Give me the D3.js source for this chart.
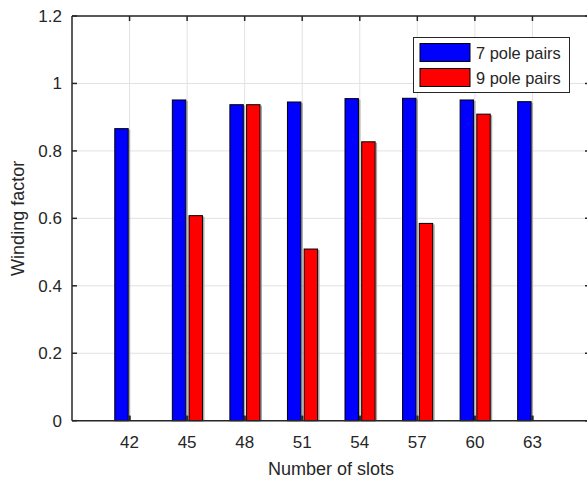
<!DOCTYPE html>
<html><head><meta charset="utf-8">
<script src="https://cdn.jsdelivr.net/npm/d3@7"></script>
<style>body{margin:0;background:#fff;overflow:hidden}svg{display:block}text{font-family:"Liberation Sans",Arial,sans-serif;fill:#262626}</style>
</head><body><svg id="c" width="587" height="481"></svg>
<script>
const slots = [42, 45, 48, 51, 54, 57, 60, 63];
const pole7 = [0.866, 0.951, 0.937, 0.945, 0.955, 0.956, 0.951, 0.946];
const pole9 = [0, 0.608, 0.937, 0.509, 0.827, 0.585, 0.909, 0];
const seriesNames = ["7 pole pairs", "9 pole pairs"];
const seriesColors = ["#0000ff", "#ff0000"];
const yTicks = [0, 0.2, 0.4, 0.6, 0.8, 1, 1.2];

const svg = d3.select("#c");
const L = 72, R = 590, T = 16, B = 420.7;
const x = d3.scaleLinear().domain([39, 66]).range([L, R]);
const y = d3.scaleLinear().domain([0, 1.2]).range([B, T]);
const tickLen = 5;

// grid
const g = svg.append("g");
g.selectAll("line.vg").data(slots).enter().append("line")
  .attr("x1", d => x(d)).attr("x2", d => x(d)).attr("y1", T).attr("y2", B)
  .attr("stroke", "#e2e2e2").attr("stroke-width", 1);
g.selectAll("line.hg").data(yTicks).enter().append("line")
  .attr("x1", L).attr("x2", R).attr("y1", d => y(d)).attr("y2", d => y(d))
  .attr("stroke", "#e2e2e2").attr("stroke-width", 1);

// bars
const barW = 0.70, off = [-0.42, 0.45];
const series = [pole7, pole9];
series.forEach((vals, si) => {
  const gg = svg.append("g");
  const data = slots.map((s, i) => ({s, v: vals[i]}));
  gg.selectAll("rect.sh").data(data.filter(d => d.v > 0)).enter().append("rect")
    .attr("x", d => x(d.s + off[si] + barW / 2) + 0.5)
    .attr("y", d => y(d.v) + 1)
    .attr("width", 1.5)
    .attr("height", d => B - y(d.v) - 1)
    .attr("fill", "#a8a8a8");
  if (si === 0) {
    gg.selectAll("rect.sp").data(data).enter().append("rect")
      .attr("x", d => x(d.s + off[si] + barW / 2) + 0.5)
      .attr("y", B - 5).attr("width", 2).attr("height", 5)
      .attr("fill", "#333");
  }
  gg.selectAll("rect.b").data(data).enter().append("rect")
    .attr("x", d => x(d.s + off[si] - barW / 2))
    .attr("y", d => y(d.v))
    .attr("width", x(barW) - x(0))
    .attr("height", d => B - y(d.v))
    .attr("fill", seriesColors[si])
    .attr("stroke", "#000").attr("stroke-width", d => d.v > 0 ? 1 : 1.6);
});

// axes box
const ax = svg.append("g").attr("stroke", "#262626").attr("stroke-width", 1.5);
ax.append("line").attr("x1", L).attr("x2", R).attr("y1", B).attr("y2", B);
ax.append("line").attr("x1", L).attr("x2", R).attr("y1", T).attr("y2", T);
ax.append("line").attr("x1", L).attr("x2", L).attr("y1", T).attr("y2", B);
slots.forEach(s => {
  ax.append("line").attr("x1", x(s)).attr("x2", x(s)).attr("y1", B).attr("y2", B - tickLen);
  ax.append("line").attr("x1", x(s)).attr("x2", x(s)).attr("y1", T).attr("y2", T + tickLen);
});
yTicks.forEach(t => {
  ax.append("line").attr("x1", L).attr("x2", L + tickLen).attr("y1", y(t)).attr("y2", y(t));
  ax.append("line").attr("x1", R).attr("x2", R - tickLen).attr("y1", y(t)).attr("y2", y(t));
});

// tick labels
svg.selectAll("text.xt").data(slots).enter().append("text")
  .attr("x", d => x(d)).attr("y", 448).attr("text-anchor", "middle")
  .attr("font-size", 17).text(d => d);
svg.selectAll("text.yt").data(yTicks).enter().append("text")
  .attr("x", 62).attr("y", d => y(d) + 6).attr("text-anchor", "end")
  .attr("font-size", 17).text(d => d3.format("")(d));

// axis titles
svg.append("text").attr("x", (L + R) / 2).attr("y", 475).attr("text-anchor", "middle")
  .attr("font-size", 18).text("Number of slots");
svg.append("text").attr("transform", `translate(24,${(T + B) / 2}) rotate(-90)`)
  .attr("text-anchor", "middle").attr("font-size", 18).text("Winding factor");

// legend
const lg = svg.append("g");
lg.append("rect").attr("x", 413.5).attr("y", 37.5).attr("width", 156).attr("height", 55)
  .attr("fill", "#fff").attr("stroke", "#262626").attr("stroke-width", 1);
seriesNames.forEach((n, i) => {
  lg.append("rect").attr("x", 420).attr("y", 43.5 + i * 25).attr("width", 50).attr("height", 18)
    .attr("fill", seriesColors[i]).attr("stroke", "#000").attr("stroke-width", 1);
  lg.append("text").attr("x", 476).attr("y", 58.5 + i * 25).attr("font-size", 16.4).text(n);
});
</script></body></html>
